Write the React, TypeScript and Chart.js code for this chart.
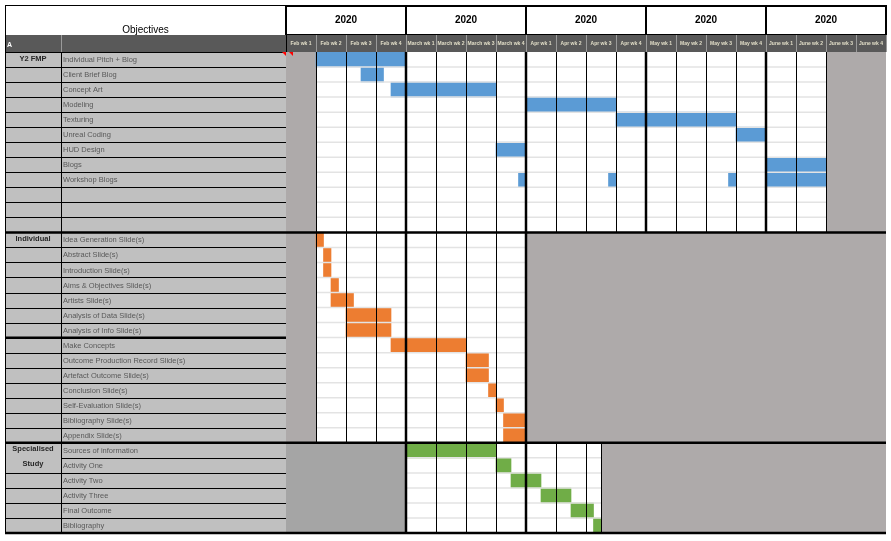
import React, { useEffect, useRef } from 'react';
import { Chart, registerables } from 'chart.js';

Chart.register(...registerables);

// ---------- data ----------
const yearLabels = ['2020', '2020', '2020', '2020', '2020'];
const weekLabels = [
  'Feb wk 1', 'Feb wk 2', 'Feb wk 3', 'Feb wk 4',
  'March wk 1', 'March wk 2', 'March wk 3', 'March wk 4',
  'Apr wk 1', 'Apr wk 2', 'Apr wk 3', 'Apr wk 4',
  'May wk 1', 'May wk 2', 'May wk 3', 'May wk 4',
  'June wk 1', 'June wk 2', 'June wk 3', 'June wk 4',
];
const sectionLabels: string[][] = [['Y2 FMP'], ['Individual'], ['Specialised', 'Study']];

const fmpTasks = [
  'Individual Pitch + Blog', 'Client Brief Blog', 'Concept Art', 'Modeling', 'Texturing',
  'Unreal Coding', 'HUD Design', 'Blogs', 'Workshop Blogs', '', '', '',
];
const individualTasks = [
  'Idea Generation Slide(s)', 'Abstract Slide(s)', 'Introduction Slide(s)', 'Aims & Objectives Slide(s)',
  'Artists Slide(s)', 'Analysis of Data Slide(s)', 'Analysis of Info Slide(s)', 'Make Concepts',
  'Outcome Production Record Slide(s)', 'Artefact Outcome Slide(s)', 'Conclusion Slide(s)',
  'Self-Evaluation Slide(s)', 'Bibliography Slide(s)', 'Appendix Slide(s)',
];
const studyTasks = [
  'Sources of information', 'Activity One', 'Activity Two', 'Activity Three', 'Final Outcome', 'Bibliography',
];

// spans in weeks from the start of Feb wk 1
const fmpSpans: ([number, number] | null)[] = [
  [1, 4], [2.5, 3.25], [3.5, 7], [8, 11], [11, 15], [15, 16], [7, 8], [16, 18], [16, 18], null, null, null,
];
const workshopExtraSpans: [number, number][] = [[7.75, 8], [10.75, 11], [14.75, 15]];
const individualSpans: [number, number][] = [
  [1, 1.25], [1.25, 1.5], [1.25, 1.5], [1.5, 1.75], [1.5, 2.25], [2, 3.5], [2, 3.5],
  [3.5, 6], [6, 6.75], [6, 6.75], [6.75, 7], [7, 7.25], [7.25, 8], [7.25, 8],
];
const studySpans: [number, number][] = [
  [4, 7], [7, 7.5], [7.5, 8.5], [8.5, 9.5], [9.5, 10.25], [10.25, 10.5],
];

// closed (greyed) week ranges per section
const fmpClosed: [number, number][] = [[0, 1], [18, 20]];
const individualClosed: [number, number][] = [[0, 1], [8, 20]];
const studyClosed: [number, number][] = [[0, 4], [10.5, 20]];

// ---------- derived ----------
const allTasks = [...fmpTasks, ...individualTasks, ...studyTasks];
const N = allTasks.length;
const sectionTasks = [fmpTasks, individualTasks, studyTasks];
const sectionClosed = [fmpClosed, individualClosed, studyClosed];
const sectionStarts = [0, fmpTasks.length, fmpTasks.length + individualTasks.length];
const workshopRow = fmpTasks.indexOf('Workshop Blogs');
const makeConceptsRow = fmpTasks.length + individualTasks.indexOf('Make Concepts');

const pad = (arr: any[], before: number) => {
  const out: any[] = new Array(N).fill(null);
  arr.forEach((v, i) => { out[before + i] = v; });
  return out;
};

const BLUE = '#5b9bd5';
const ORANGE = '#ed7d31';
const GREEN = '#70ad47';
const CLOSED = '#aeaaaa';
const CLOSED_DARK = '#a5a5a5';
const FONT = '"Liberation Sans", Arial, sans-serif';

const barBase = {
  grouped: false,
  barPercentage: 1,
  categoryPercentage: 1,
  borderWidth: 0,
  borderSkipped: false,
};

const datasets: any[] = [
  { ...barBase, label: 'Y2 FMP', data: pad(fmpSpans, 0), backgroundColor: BLUE },
  ...workshopExtraSpans.map((s, k) => ({
    ...barBase, label: 'Workshop ' + k, data: pad([s], workshopRow), backgroundColor: BLUE,
  })),
  { ...barBase, label: 'Individual', data: pad(individualSpans, sectionStarts[1]), backgroundColor: ORANGE },
  { ...barBase, label: 'Specialised Study', data: pad(studySpans, sectionStarts[2]), backgroundColor: GREEN },
];

const ganttPlugin = {
  id: 'ganttTable',
  beforeDatasetsDraw(chart: any) {
    const { ctx, chartArea: ca, scales } = chart;
    const xs = scales.x, ys = scales.y;
    const rowH = (ca.bottom - ca.top) / N;
    const rTop = (i: number) => ys.getPixelForValue(i) - rowH / 2;
    const rBot = (i: number) => ys.getPixelForValue(i) + rowH / 2;
    const wx = (w: number) => xs.getPixelForValue(w);
    const L = 5, COLB = 61, TOP = 5, SPLIT = 35;
    const R = ca.left;

    ctx.save();
    // ---- header top row ----
    ctx.fillStyle = '#fff';
    ctx.fillRect(L, TOP, ca.right - L, SPLIT - TOP);
    ctx.strokeStyle = '#000';
    ctx.lineWidth = 1;
    ctx.beginPath();
    ctx.moveTo(L, TOP + 0.5); ctx.lineTo(R, TOP + 0.5);
    ctx.moveTo(L + 0.5, TOP); ctx.lineTo(L + 0.5, SPLIT);
    ctx.stroke();
    ctx.fillStyle = '#000';
    ctx.font = `10px ${FONT}`;
    ctx.textAlign = 'center';
    ctx.textBaseline = 'alphabetic';
    ctx.fillText('Objectives', (L + R) / 2, 33);

    ctx.lineWidth = 2;
    ctx.font = `bold 10px ${FONT}`;
    ctx.textBaseline = 'middle';
    yearLabels.forEach((yl, m) => {
      const x0 = wx(m * 4), x1 = wx(m * 4 + 4);
      ctx.strokeRect(x0, TOP + 1, x1 - x0, SPLIT - TOP - 1);
      ctx.fillText(yl, (x0 + x1) / 2, 20);
    });

    // ---- header dark row ----
    ctx.fillStyle = '#595959';
    ctx.fillRect(L, SPLIT, ca.right - L, ca.top - SPLIT);
    ctx.strokeStyle = '#9a9a9a';
    ctx.lineWidth = 1;
    ctx.beginPath();
    ctx.moveTo(COLB + 0.5, SPLIT); ctx.lineTo(COLB + 0.5, ca.top);
    for (let w = 0; w <= weekLabels.length; w++) {
      const x = Math.round(wx(w)) + 0.5;
      ctx.moveTo(x, SPLIT); ctx.lineTo(x, ca.top);
    }
    ctx.stroke();
    ctx.fillStyle = '#ffffff';
    ctx.font = `bold 7px ${FONT}`;
    ctx.textAlign = 'left';
    ctx.fillText('A', 7, 45);
    ctx.font = `bold 5px ${FONT}`;
    ctx.fillStyle = '#e2dec8';
    weekLabels.forEach((wl, w) => {
      const x0 = wx(w), x1 = wx(w + 1);
      ctx.save();
      ctx.beginPath();
      ctx.rect(x0 + 1, SPLIT, x1 - x0 - 2, ca.top - SPLIT);
      ctx.clip();
      const tw = ctx.measureText(wl).width;
      if (tw > x1 - x0 - 3) {
        ctx.textAlign = 'left';
        ctx.fillText(wl, x0 + 1.5, (SPLIT + ca.top) / 2);
      } else {
        ctx.textAlign = 'center';
        ctx.fillText(wl, (x0 + x1) / 2, (SPLIT + ca.top) / 2);
      }
      ctx.restore();
    });

    // ---- left table ----
    ctx.fillStyle = '#c0c0c0';
    ctx.fillRect(L, ca.top, R - L, ca.bottom - ca.top);
    ctx.strokeStyle = '#000';
    ctx.lineWidth = 1;
    ctx.beginPath();
    // merged cells in column A (multi-line section labels)
    const mergedA = new Set<number>();
    sectionLabels.forEach((lines, s) => {
      for (let k = 1; k < lines.length; k++) mergedA.add(sectionStarts[s] + k);
    });
    for (let i = 0; i <= N; i++) {
      const y = Math.round(i < N ? rTop(i) : rBot(N - 1)) + 0.5;
      ctx.moveTo(mergedA.has(i) ? COLB : L, y);
      ctx.lineTo(R, y);
    }
    ctx.moveTo(L + 0.5, SPLIT); ctx.lineTo(L + 0.5, ca.bottom);
    ctx.moveTo(COLB + 0.5, ca.top); ctx.lineTo(COLB + 0.5, ca.bottom);
    ctx.moveTo(R + 0.5, SPLIT); ctx.lineTo(R + 0.5, ca.bottom);
    ctx.stroke();
    ctx.lineWidth = 2;
    ctx.beginPath();
    ctx.moveTo(L, rTop(makeConceptsRow)); ctx.lineTo(R, rTop(makeConceptsRow));
    ctx.stroke();

    ctx.textBaseline = 'middle';
    ctx.textAlign = 'left';
    ctx.font = `7.5px ${FONT}`;
    ctx.fillStyle = '#595959';
    allTasks.forEach((t, i) => {
      if (t) ctx.fillText(t, 63, ys.getPixelForValue(i) + 0.5);
    });
    ctx.textAlign = 'center';
    ctx.font = `bold 7.5px ${FONT}`;
    ctx.fillStyle = '#262626';
    sectionLabels.forEach((lines, s) => {
      lines.forEach((ln, k) => {
        ctx.fillText(ln, (L + COLB) / 2, ys.getPixelForValue(sectionStarts[s] + k) - 1);
      });
    });

    // ---- chart body ----
    ctx.fillStyle = '#fff';
    ctx.fillRect(ca.left, ca.top, ca.right - ca.left, ca.bottom - ca.top);
    sectionTasks.forEach((tasks, s) => {
      const y0 = rTop(sectionStarts[s]);
      const y1 = rBot(sectionStarts[s] + tasks.length - 1);
      sectionClosed[s].forEach(([a, b], k) => {
        ctx.fillStyle = s === 2 && k === 0 ? CLOSED_DARK : CLOSED;
        ctx.fillRect(wx(a), y0, wx(b) - wx(a), y1 - y0);
      });
    });
    ctx.restore();
  },
  afterDatasetsDraw(chart: any) {
    const { ctx, chartArea: ca, scales } = chart;
    const xs = scales.x, ys = scales.y;
    const rowH = (ca.bottom - ca.top) / N;
    const rTop = (i: number) => ys.getPixelForValue(i) - rowH / 2;
    const rBot = (i: number) => ys.getPixelForValue(i) + rowH / 2;
    const wx = (w: number) => xs.getPixelForValue(w);
    ctx.save();
    sectionTasks.forEach((tasks, s) => {
      const open0 = sectionClosed[s][0][1];
      const open1 = sectionClosed[s][1][0];
      const first = sectionStarts[s];
      const y0 = rTop(first);
      const y1 = rBot(first + tasks.length - 1);
      // light row lines
      ctx.strokeStyle = '#e3e3e3';
      ctx.lineWidth = 1.5;
      ctx.beginPath();
      for (let i = first + 1; i < first + tasks.length; i++) {
        const y = rTop(i);
        ctx.moveTo(wx(open0), y); ctx.lineTo(wx(open1), y);
      }
      ctx.stroke();
      // week lines
      const weeks: number[] = [];
      for (let w = Math.ceil(open0); w <= Math.floor(open1); w++) weeks.push(w);
      if (open1 % 1 !== 0) weeks.push(open1);
      weeks.forEach((w) => {
        const thick = w % 4 === 0;
        ctx.strokeStyle = '#000';
        ctx.lineWidth = thick ? 2.5 : 1;
        const x = thick ? wx(w) : Math.round(wx(w)) + 0.5;
        ctx.beginPath();
        ctx.moveTo(x, y0); ctx.lineTo(x, y1);
        ctx.stroke();
      });
    });
    // section separators
    ctx.strokeStyle = '#000';
    ctx.lineWidth = 2.5;
    ctx.beginPath();
    [sectionStarts[1], sectionStarts[2]].forEach((i) => {
      ctx.moveTo(5, rTop(i)); ctx.lineTo(ca.right, rTop(i));
    });
    ctx.moveTo(5, rBot(N - 1)); ctx.lineTo(ca.right, rBot(N - 1));
    ctx.stroke();
    // comment markers
    ctx.fillStyle = '#ff0000';
    [ca.left - 4, ca.left + 3].forEach((x0) => {
      ctx.beginPath();
      ctx.moveTo(x0, ca.top);
      ctx.lineTo(x0 + 4, ca.top);
      ctx.lineTo(x0 + 4, ca.top + 4);
      ctx.closePath();
      ctx.fill();
    });
    ctx.restore();
  },
};

export default function App() {
  const ref = useRef<HTMLCanvasElement>(null);
  useEffect(() => {
    if (!ref.current) return;
    const chart = new Chart(ref.current, {
      type: 'bar',
      data: { labels: allTasks, datasets },
      options: {
        indexAxis: 'y',
        animation: false,
        responsive: true,
        maintainAspectRatio: false,
        layout: { padding: { left: 286, right: 5, top: 52, bottom: 8 } },
        scales: {
          x: { type: 'linear', min: 0, max: 20, display: false },
          y: { type: 'category', display: false, offset: true },
        },
        plugins: { legend: { display: false }, tooltip: { enabled: false } },
      } as any,
      plugins: [ganttPlugin],
    });
    return () => chart.destroy();
  }, []);
  return (
    <div style={{ position: 'fixed', left: 0, top: 0, width: 891, height: 541, background: '#fff' }}>
      <canvas ref={ref} />
    </div>
  );
}
